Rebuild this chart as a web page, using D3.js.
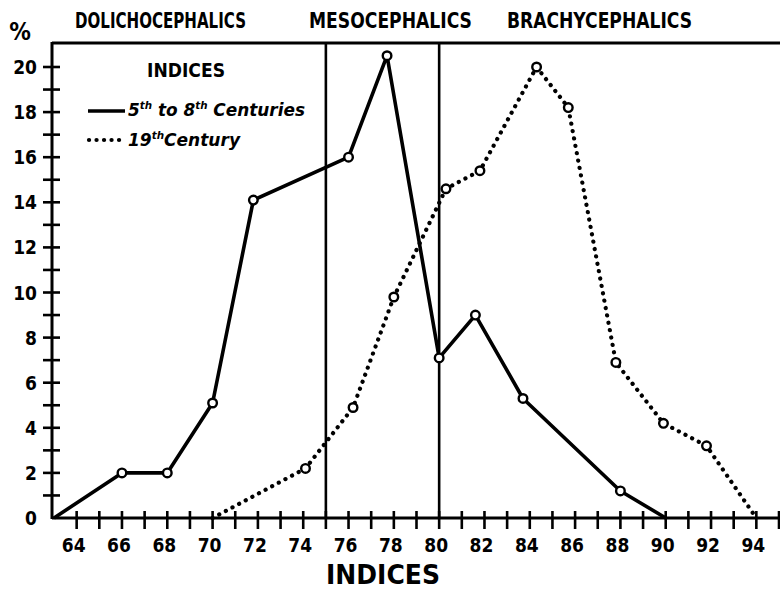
<!DOCTYPE html>
<html>
<head>
<meta charset="utf-8">
<script src="https://cdn.jsdelivr.net/npm/d3@7/dist/d3.min.js"></script>
<style>
  html, body { margin: 0; padding: 0; background: #fff; }
  svg { display: block; }
  text { fill: #000; }
</style>
</head>
<body>
<svg id="chart" width="780" height="592"></svg>
<script>
// Cephalic index distributions (percent of skulls per index value)
const ancientIndex = [63, 66, 68, 70, 71.8, 76, 77.7, 80, 81.6, 83.7, 88, 90];
const ancientPct   = [0, 2, 2, 5.1, 14.1, 16, 20.5, 7.1, 9.0, 5.3, 1.2, 0];
const ancientMarked = [false, true, true, true, true, true, true, true, true, true, true, false];

const modernIndex = [70, 74.1, 76.2, 78, 80.3, 81.8, 84.3, 85.7, 87.8, 89.9, 91.8, 94];
const modernPct   = [0, 2.2, 4.9, 9.8, 14.6, 15.4, 20, 18.2, 6.9, 4.2, 3.2, 0];
const modernMarked = [false, true, true, true, true, true, true, true, true, true, true, false];

// Class boundaries and headings
const boundaries = [75, 80];
const classLabels = ["DOLICHOCEPHALICS", "MESOCEPHALICS", "BRACHYCEPHALICS"];
const xTickLabels = [64, 66, 68, 70, 72, 74, 76, 78, 80, 82, 84, 86, 88, 90, 92, 94];
const yTickLabels = [0, 2, 4, 6, 8, 10, 12, 14, 16, 18, 20];
const seriesNames = ["5th to 8th Centuries", "19th Century"];

const svg = d3.select("#chart");
const FONT = "'DejaVu Sans Condensed', 'DejaVu Sans', sans-serif";

const x = d3.scaleLinear().domain([63, 95]).range([54, 779]);
const y = d3.scaleLinear().domain([0, 20]).range([518, 67]);
const axisX = 52, topY = 43, baseY = y(0);

// Frame: y axis, top rule, x axis
svg.append("line").attr("x1", axisX).attr("x2", axisX).attr("y1", baseY + 1).attr("y2", topY - 1)
  .attr("stroke", "#000").attr("stroke-width", 3);
svg.append("line").attr("x1", axisX).attr("x2", 780).attr("y1", topY).attr("y2", topY)
  .attr("stroke", "#000").attr("stroke-width", 3);
svg.append("line").attr("x1", axisX).attr("x2", 780).attr("y1", baseY).attr("y2", baseY)
  .attr("stroke", "#000").attr("stroke-width", 3);

// Boundary lines between the three classes
svg.selectAll("line.boundary").data(boundaries).join("line")
  .attr("class", "boundary")
  .attr("x1", d => x(d)).attr("x2", d => x(d))
  .attr("y1", topY).attr("y2", baseY)
  .attr("stroke", "#000").attr("stroke-width", 2.6);

// Y ticks (every unit) crossing the axis
svg.selectAll("line.ytick").data(d3.range(1, 21)).join("line")
  .attr("class", "ytick")
  .attr("x1", axisX - 9).attr("x2", axisX + 8)
  .attr("y1", d => y(d)).attr("y2", d => y(d))
  .attr("stroke", "#000").attr("stroke-width", 2.6);

svg.selectAll("text.ylab").data(yTickLabels).join("text")
  .attr("class", "ylab")
  .attr("x", 37).attr("y", d => y(d) + 7)
  .attr("text-anchor", "end")
  .attr("font-family", FONT).attr("font-weight", "bold").attr("font-size", 19)
  .text(d => d);

// X ticks (every unit) crossing the axis
svg.selectAll("line.xtick").data(d3.range(64, 96)).join("line")
  .attr("class", "xtick")
  .attr("x1", d => x(d)).attr("x2", d => x(d))
  .attr("y1", baseY - 7).attr("y2", baseY + 11)
  .attr("stroke", "#000").attr("stroke-width", 2.6);

svg.selectAll("text.xlab").data(xTickLabels).join("text")
  .attr("class", "xlab")
  .attr("x", d => x(d) - 3).attr("y", baseY + 34)
  .attr("text-anchor", "middle")
  .attr("font-family", FONT).attr("font-weight", "bold").attr("font-size", 19)
  .text(d => d);

// Axis title
svg.append("text")
  .attr("x", 383).attr("y", 584)
  .attr("text-anchor", "middle")
  .attr("font-family", FONT).attr("font-weight", "bold").attr("font-size", 26)
  .attr("textLength", 114).attr("lengthAdjust", "spacingAndGlyphs")
  .text("INDICES");

// Percent sign above the y axis
svg.append("text")
  .attr("x", 20).attr("y", 40)
  .attr("text-anchor", "middle")
  .attr("font-family", FONT).attr("font-weight", "bold").attr("font-size", 24)
  .text("%");

// Class headings
const headPos = [[75, 246], [309, 472], [507, 692]];
svg.selectAll("text.head").data(classLabels).join("text")
  .attr("class", "head")
  .attr("x", (d, i) => headPos[i][0]).attr("y", 28)
  .attr("font-family", FONT).attr("font-weight", "bold").attr("font-size", 22)
  .attr("textLength", (d, i) => headPos[i][1] - headPos[i][0])
  .attr("lengthAdjust", "spacingAndGlyphs")
  .text(d => d);

// Series
const line = d3.line().x(d => x(d[0])).y(d => y(d[1]));
const ancient = ancientIndex.map((v, i) => [v, ancientPct[i], ancientMarked[i]]);
const modern = modernIndex.map((v, i) => [v, modernPct[i], modernMarked[i]]);

svg.append("path").datum(modern)
  .attr("d", line).attr("fill", "none")
  .attr("stroke", "#000").attr("stroke-width", 4.2)
  .attr("stroke-linecap", "round").attr("stroke-dasharray", "0.1 7.4");

svg.append("path").datum(ancient)
  .attr("d", line).attr("fill", "none")
  .attr("stroke", "#000").attr("stroke-width", 3.6)
  .attr("stroke-linejoin", "round");

svg.selectAll("circle.pt").data(ancient.concat(modern).filter(d => d[2])).join("circle")
  .attr("class", "pt")
  .attr("cx", d => x(d[0])).attr("cy", d => y(d[1]))
  .attr("r", 4.3)
  .attr("fill", "#fff").attr("stroke", "#000").attr("stroke-width", 2.4);

// Legend
const lg = svg.append("g").attr("font-family", FONT);
lg.append("text").attr("x", 147).attr("y", 77)
  .attr("font-weight", "bold").attr("font-size", 19)
  .attr("textLength", 78).attr("lengthAdjust", "spacingAndGlyphs")
  .text("INDICES");

lg.append("line").attr("x1", 88).attr("x2", 125).attr("y1", 111).attr("y2", 111)
  .attr("stroke", "#000").attr("stroke-width", 3.6);
lg.append("line").attr("x1", 89).attr("x2", 123).attr("y1", 140).attr("y2", 140)
  .attr("stroke", "#000").attr("stroke-width", 4.2)
  .attr("stroke-linecap", "round").attr("stroke-dasharray", "0.1 7.4");

function legendLabel(yPos, parts, x0, x1) {
  const t = lg.append("text").attr("x", x0).attr("y", yPos)
    .attr("font-style", "italic").attr("font-weight", "bold").attr("font-size", 18)
    .attr("textLength", x1 - x0).attr("lengthAdjust", "spacingAndGlyphs");
  parts.forEach(p => {
    const s = t.append("tspan").text(p.t);
    if (p.sup) s.attr("font-size", 11).attr("dy", -7);
    else if (p.down) s.attr("dy", 7);
  });
}
legendLabel(116, [{t: "5"}, {t: "th", sup: true}, {t: " to 8", down: true}, {t: "th", sup: true}, {t: " Centuries", down: true}], 128, 305);
legendLabel(146, [{t: "19"}, {t: "th", sup: true}, {t: "Century", down: true}], 128, 240);
</script>
</body>
</html>
